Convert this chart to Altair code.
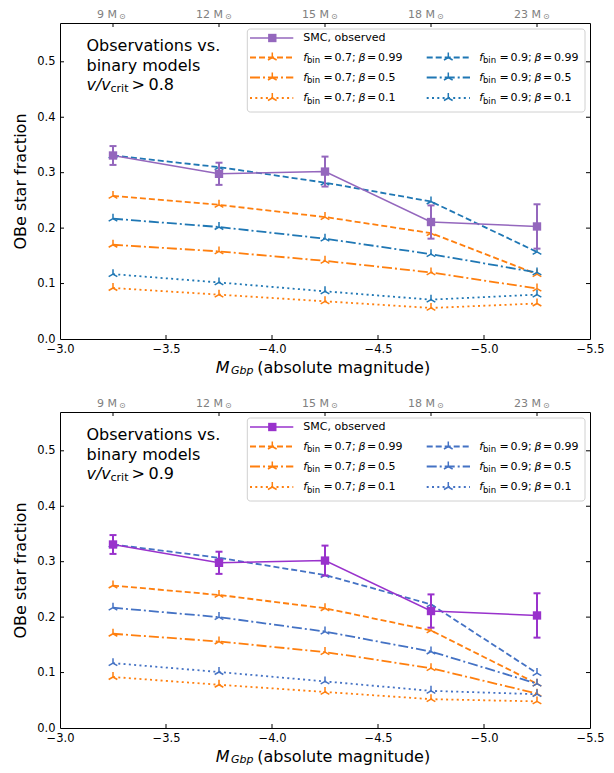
import altair as alt
import pandas as pd

# ---------------- data ----------------
mag = [-3.25, -3.75, -4.25, -4.75, -5.25]
mass_labels = ["9 M", "12 M", "15 M", "18 M", "23 M"]
x_ticks = [-3.0, -3.5, -4.0, -4.5, -5.0, -5.5]
y_ticks = [0.0, 0.1, 0.2, 0.3, 0.4, 0.5]

smc_obs = [0.331, 0.298, 0.302, 0.211, 0.203]
smc_err = [0.017, 0.020, 0.027, 0.030, 0.040]

series_keys = ["f07_b099", "f07_b05", "f07_b01", "f09_b099", "f09_b05", "f09_b01"]
series_fbin = ["0.7", "0.7", "0.7", "0.9", "0.9", "0.9"]
series_beta = ["0.99", "0.5", "0.1", "0.99", "0.5", "0.1"]

# v/v_crit > 0.8
f07_b099_08 = [0.258, 0.242, 0.220, 0.191, 0.117]
f07_b05_08 = [0.170, 0.158, 0.141, 0.120, 0.091]
f07_b01_08 = [0.092, 0.080, 0.068, 0.056, 0.064]
f09_b099_08 = [0.331, 0.310, 0.282, 0.248, 0.157]
f09_b05_08 = [0.217, 0.202, 0.181, 0.153, 0.120]
f09_b01_08 = [0.117, 0.102, 0.086, 0.071, 0.080]

# v/v_crit > 0.9
f07_b099_09 = [0.257, 0.240, 0.216, 0.176, 0.080]
f07_b05_09 = [0.170, 0.156, 0.137, 0.108, 0.062]
f07_b01_09 = [0.092, 0.078, 0.065, 0.052, 0.048]
f09_b099_09 = [0.331, 0.307, 0.276, 0.223, 0.099]
f09_b05_09 = [0.217, 0.200, 0.174, 0.138, 0.080]
f09_b01_09 = [0.117, 0.101, 0.084, 0.067, 0.061]

models_08 = dict(zip(series_keys, [f07_b099_08, f07_b05_08, f07_b01_08,
                                   f09_b099_08, f09_b05_08, f09_b01_08]))
models_09 = dict(zip(series_keys, [f07_b099_09, f07_b05_09, f07_b01_09,
                                   f09_b099_09, f09_b05_09, f09_b01_09]))

# ---------------- style ----------------
W, H = 530, 316
FONT = "DejaVu Sans"
TRI = "M0,0L0,-1M0,0L-0.866,0.5M0,0L0.866,0.5"
CAP = "M-1,0L1,0"
DASH = [6, 3]
DASHDOT = [10, 3, 2, 3]
DOT = [2, 3.3]
ORANGE = "#ff7f0e"


def text_layer(rows, italic):
    df = pd.DataFrame(rows, columns=["t", "x", "y", "fs"])
    return alt.Chart(df).mark_text(
        align="left", baseline="middle", font=FONT,
        fontStyle="italic" if italic else "normal", color="black"
    ).encode(
        x=alt.X("x:Q", scale=None),
        y=alt.Y("y:Q", scale=None),
        text="t:N",
        size=alt.Size("fs:Q", scale=None, legend=None),
    )


def panel(models, col_smc, col_blue, thr):
    xs = alt.Scale(domain=[-3.0, -5.5], nice=False, zero=False)
    ys = alt.Scale(domain=[0.0, 0.57], nice=False, zero=False)
    colors = [ORANGE] * 3 + [col_blue] * 3
    dashes = [DASH, DASHDOT, DOT] * 2
    cscale = alt.Scale(domain=series_keys, range=colors)
    dscale = alt.Scale(domain=series_keys, range=dashes)

    rows = []
    for k in series_keys:
        for m, v in zip(mag, models[k]):
            rows.append({"mag": m, "frac": v, "series": k})
    mdf = pd.DataFrame(rows)
    sdf = pd.DataFrame({
        "mag": mag, "frac": smc_obs,
        "lo": [o - e for o, e in zip(smc_obs, smc_err)],
        "hi": [o + e for o, e in zip(smc_obs, smc_err)],
    })

    x_axis = alt.Axis(values=x_ticks, format=".1f", ticks=False, domain=False,
                      grid=False, labelPadding=4, labelFlush=False,
                      labelOverlap=False, title=None)
    y_axis = alt.Axis(values=y_ticks, format=".1f", ticks=False, domain=False,
                      grid=False, labelPadding=5, labelFlush=False,
                      labelOverlap=False,
                      title="OBe star fraction", titleFontSize=16,
                      titleFontWeight="normal", titlePadding=8)

    def X(f):
        return alt.X(f + ":Q", scale=xs, axis=x_axis)

    def Y(f):
        return alt.Y(f + ":Q", scale=ys, axis=y_axis)

    color = alt.Color("series:N", scale=cscale, legend=None)
    dash = alt.StrokeDash("series:N", scale=dscale, legend=None)

    smc_line = alt.Chart(sdf).mark_line(color=col_smc, strokeWidth=1.5).encode(
        x=X("mag"), y=Y("frac"))
    smc_err_l = alt.Chart(sdf).mark_rule(color=col_smc, strokeWidth=2).encode(
        x=X("mag"), y=Y("lo"), y2="hi:Q")
    smc_cap_lo = alt.Chart(sdf).mark_point(shape=CAP, size=49, color=col_smc,
                                           strokeWidth=2, filled=False, opacity=1).encode(
        x=X("mag"), y=Y("lo"))
    smc_cap_hi = alt.Chart(sdf).mark_point(shape=CAP, size=49, color=col_smc,
                                           strokeWidth=2, filled=False, opacity=1).encode(
        x=X("mag"), y=Y("hi"))
    smc_pts = alt.Chart(sdf).mark_point(shape="square", size=70, filled=True,
                                        color=col_smc, opacity=1).encode(
        x=X("mag"), y=Y("frac"))

    mlines = alt.Chart(mdf).mark_line(strokeWidth=1.8).encode(
        x=X("mag"), y=Y("frac"), color=color, strokeDash=dash, detail="series:N")
    mpts = alt.Chart(mdf).mark_point(shape=TRI, size=100, filled=False,
                                     strokeWidth=1.5, opacity=1).encode(
        x=X("mag"), y=Y("frac"), color=color)

    # inward ticks on all four sides
    xt = pd.DataFrame({"mag": x_ticks[1:-1]})
    mt = pd.DataFrame({"mag": mag, "lab": mass_labels})
    yt = pd.DataFrame({"frac": y_ticks[1:]})
    tk = dict(color="black", strokeWidth=1)
    t_bottom = alt.Chart(xt).mark_rule(**tk).encode(
        x=X("mag"), y=alt.value(H), y2=alt.value(H - 4))
    t_top = alt.Chart(mt).mark_rule(**tk).encode(
        x=X("mag"), y=alt.value(0), y2=alt.value(4))
    t_left = alt.Chart(yt).mark_rule(**tk).encode(
        y=Y("frac"), x=alt.value(0), x2=alt.value(4))
    t_right = alt.Chart(yt).mark_rule(**tk).encode(
        y=Y("frac"), x=alt.value(W), x2=alt.value(W - 4))

    top_lab = alt.Chart(mt).mark_text(align="right", baseline="bottom", dx=4,
                                      fontSize=11, font=FONT, color="#808080").encode(
        x=X("mag"), y=alt.value(-3), text="lab:N")
    top_sun = alt.Chart(mt).mark_text(align="left", baseline="bottom", dx=6,
                                      fontSize=8, font=FONT, color="#808080").encode(
        x=X("mag"), y=alt.value(-2), text=alt.value("⊙"))

    # ---- legend ----
    bx1 = W - 5
    bx0 = bx1 - 337.7
    box = alt.Chart(pd.DataFrame({"a": [0]})).mark_rect(
        fill="white", fillOpacity=0.8, stroke="#d0d0d0", strokeWidth=1,
        cornerRadius=3).encode(x=alt.value(bx0), x2=alt.value(bx1),
                               y=alt.value(6), y2=alt.value(89))
    row_y = [34.5, 54.5, 75]
    col_line = [(bx0 + 2.7, bx0 + 46, bx0 + 25, bx0 + 56),
                (bx0 + 179.4, bx0 + 222.7, bx0 + 201, bx0 + 232)]
    lrows, prow = [], []
    norm_t, ital_t = [], []
    for i, k in enumerate(series_keys):
        c = col_line[i // 3]
        y = row_y[i % 3]
        lrows.append({"x0": c[0], "x1": c[1], "y": y, "series": k})
        prow.append({"x": c[2], "y": y, "series": k})
        tx = c[3]
        ital_t.append(("f", tx, y, 11))
        norm_t.append(("bin", tx + 3.6, y + 2.5, 8.5))
        norm_t.append(("=", tx + 20.3, y, 11))
        norm_t.append((series_fbin[i] + ";", tx + 31.2, y, 11))
        ital_t.append(("β", tx + 55.2, y, 11))
        norm_t.append(("=", tx + 63.8, y, 11))
        norm_t.append((series_beta[i], tx + 74.6, y, 11))
    norm_t.append(("SMC, observed", col_line[0][3], 15, 11))
    ldf = pd.DataFrame(lrows)
    pdf = pd.DataFrame(prow)
    leg_lines = alt.Chart(ldf).mark_rule(strokeWidth=1.8).encode(
        x=alt.X("x0:Q", scale=None), x2="x1:Q",
        y=alt.Y("y:Q", scale=None), color=color, strokeDash=dash)
    leg_pts = alt.Chart(pdf).mark_point(shape=TRI, size=100, filled=False,
                                        strokeWidth=1.5, opacity=1).encode(
        x=alt.X("x:Q", scale=None),
        y=alt.Y("y:Q", scale=None), color=color)
    smc_leg_line = alt.Chart(pd.DataFrame({"a": [0]})).mark_rule(
        color=col_smc, strokeWidth=1.5).encode(
        x=alt.value(col_line[0][0]), x2=alt.value(col_line[0][1]), y=alt.value(15))
    smc_leg_pt = alt.Chart(pd.DataFrame({"a": [0]})).mark_point(
        shape="square", size=70, filled=True, color=col_smc, opacity=1).encode(
        x=alt.value(col_line[0][2]), y=alt.value(15))

    # ---- annotation and x title ----
    ann_n = [("Observations vs.", 26.5, 23.3, 16), ("binary models", 26.5, 42.7, 16),
             ("crit", 50.5, 65.7, 11), (">", 71.5, 61.7, 16), (thr, 88.5, 61.7, 16)]
    ann_i = [("v/v", 26.5, 61.7, 16)]
    cx = W / 2
    ann_n.append(("(absolute magnitude)", cx - 67.7, H + 29, 16))
    ann_i.append(("M", cx - 109.3, H + 29, 16))
    ann_i.append(("Gbp", cx - 94.0, H + 32.3, 11))

    layers = [mlines, mpts, t_bottom, t_top, t_left, t_right, top_lab, top_sun,
              smc_err_l, smc_cap_lo, smc_cap_hi, smc_line, smc_pts,
              box, leg_lines, leg_pts, smc_leg_line, smc_leg_pt,
              text_layer(norm_t + ann_n, False), text_layer(ital_t + ann_i, True)]
    return alt.layer(*layers).properties(width=W, height=H)


top = panel(models_08, "#9467bd", "#1f77b4", "0.8")
bottom = panel(models_09, "#9932cc", "#4472c4", "0.9")

chart = alt.vconcat(top, bottom, spacing=20).resolve_scale(
    x="independent", y="independent", color="independent",
    strokeDash="independent"
).properties(
    padding={"left": 4, "top": 0, "right": 0, "bottom": 0}
).configure_view(
    stroke="black", strokeWidth=1
).configure_axis(
    labelFont=FONT, titleFont=FONT, labelFontSize=11.5, labelColor="black",
    titleColor="black"
)

chart.save("out.html", embed_options={"renderer": "svg", "actions": False})
